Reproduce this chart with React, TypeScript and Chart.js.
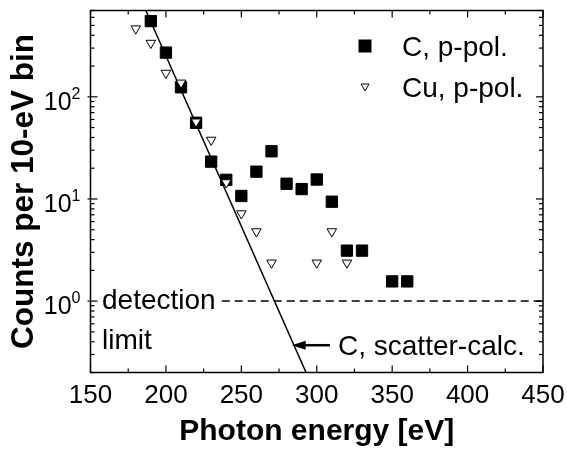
import React, { useEffect, useRef } from 'react';
import { Chart, registerables } from 'chart.js';

Chart.register(...registerables);

// ---- data ----
const energyC = [190, 200, 210, 220, 230, 240, 250, 260, 270, 280, 290, 300, 310, 320, 330, 350, 360];
const countsC = [551, 271, 124, 55.7, 23.2, 15.4, 10.7, 18.5, 29.3, 14.1, 12.5, 15.5, 9.4, 3.12, 3.12, 1.56, 1.56];
const energyCu = [180, 190, 200, 210, 220, 230, 240, 250, 260, 270, 300, 310, 320];
const countsCu = [465, 336, 171, 137, 57, 37.8, 14.5, 7.2, 4.8, 2.37, 2.37, 4.8, 2.37];
const calcEnergy = [186.7, 292.9];
const calcCounts = [700, 0.2];
const limitEnergy = [237, 450];
const limitCounts = [1, 1];
const arrowEnergy = [308.8, 283.4];
const arrowCount = 0.37;

const xMajorTicks = [150, 200, 250, 300, 350, 400, 450];
const xMinorTicks = [175, 225, 275, 325, 375, 425];
const yMajorTicks = [1, 10, 100];
const yMajorExponents = ['0', '1', '2'];
const yMinorTicks = [0.2, 0.3, 0.4, 0.5, 0.6, 0.7, 0.8, 0.9, 2, 3, 4, 5, 6, 7, 8, 9, 20, 30, 40, 50, 60, 70, 80, 90, 200, 300, 400, 500, 600, 700];

const seriesLabels = ['C, p-pol.', 'Cu, p-pol.'];
const xTitle = 'Photon energy [eV]';
const yTitle = 'Counts per 10-eV bin';
const limitText = ['detection', 'limit'];
const calcText = 'C, scatter-calc.';

const X_MIN = 150, X_MAX = 450, Y_MIN = 0.2, Y_MAX = 700;

const FAMILY = '"Liberation Sans", Arial, Helvetica, sans-serif';
const font = (size: number, bold = false) => `${bold ? 'bold ' : ''}${size}px ${FAMILY}`;

const decorPlugin = {
  id: 'decor',
  afterDatasetsDraw(chart: any) {
    const { ctx, chartArea: a, scales } = chart;
    const x = scales.x;
    const y = scales.y;
    ctx.save();
    ctx.strokeStyle = '#000';
    ctx.fillStyle = '#000';
    ctx.setLineDash([]);

    const seg = (x1: number, y1: number, x2: number, y2: number) => {
      ctx.beginPath();
      ctx.moveTo(x1, y1);
      ctx.lineTo(x2, y2);
      ctx.stroke();
    };

    // ticks (inward)
    ctx.lineWidth = 1.2;
    xMajorTicks.forEach((v) => {
      const px = x.getPixelForValue(v);
      seg(px, a.bottom, px, a.bottom - 7);
      seg(px, a.top, px, a.top + 7);
    });
    xMinorTicks.forEach((v) => {
      const px = x.getPixelForValue(v);
      seg(px, a.bottom, px, a.bottom - 4);
      seg(px, a.top, px, a.top + 4);
    });
    yMajorTicks.forEach((v) => {
      const py = y.getPixelForValue(v);
      seg(a.left - 3, py, a.left + 7, py);
      seg(a.right, py, a.right - 7, py);
    });
    yMinorTicks.forEach((v) => {
      const py = y.getPixelForValue(v);
      seg(a.left, py, a.left + 4, py);
      seg(a.right, py, a.right - 4, py);
    });

    // frame
    ctx.lineWidth = 1.5;
    ctx.strokeRect(a.left, a.top, a.right - a.left, a.bottom - a.top);

    // x tick labels
    ctx.font = font(26);
    ctx.textAlign = 'center';
    ctx.textBaseline = 'alphabetic';
    xMajorTicks.forEach((v) => {
      ctx.fillText(String(v), x.getPixelForValue(v), a.bottom + 30);
    });

    // y tick labels 10^n
    yMajorTicks.forEach((v, i) => {
      const py = y.getPixelForValue(v);
      const exp = yMajorExponents[i];
      ctx.textAlign = 'right';
      ctx.font = font(16);
      const ew = ctx.measureText(exp).width;
      const xr = a.left - 10;
      ctx.fillText(exp, xr, py + 2);
      ctx.font = font(25);
      ctx.fillText('10', xr - ew, py + 13);
    });

    // axis titles
    ctx.font = font(30, true);
    ctx.textAlign = 'center';
    ctx.fillText(xTitle, (a.left + a.right) / 2, 440);
    ctx.save();
    ctx.font = font(31.5, true);
    ctx.translate(33, (a.top + a.bottom) / 2);
    ctx.rotate(-Math.PI / 2);
    ctx.fillText(yTitle, 0, 0);
    ctx.restore();

    // legend
    ctx.font = font(28);
    ctx.textAlign = 'left';
    const lx = 365;
    const ly1 = 46;
    const ly2 = 87;
    ctx.fillRect(lx - 6.5, ly1 - 6.5, 13, 13);
    ctx.fillText(seriesLabels[0], 402, ly1 + 10);
    ctx.lineWidth = 1;
    ctx.fillStyle = '#fff';
    ctx.beginPath();
    ctx.moveTo(lx - 4, ly2 - 3);
    ctx.lineTo(lx + 4, ly2 - 3);
    ctx.lineTo(lx, ly2 + 4);
    ctx.closePath();
    ctx.fill();
    ctx.stroke();
    ctx.fillStyle = '#000';
    ctx.fillText(seriesLabels[1], 402, ly2 + 10);

    // detection limit text
    const p1 = y.getPixelForValue(1);
    ctx.fillText(limitText[0], 102, p1 + 7.5);
    ctx.fillText(limitText[1], 102, p1 + 47.5);

    // arrow + calc label
    const ay = y.getPixelForValue(arrowCount);
    const tailX = x.getPixelForValue(arrowEnergy[0]);
    const tipX = x.getPixelForValue(arrowEnergy[1]);
    ctx.lineWidth = 2.5;
    seg(tailX, ay, tipX + 10, ay);
    ctx.beginPath();
    ctx.moveTo(tipX, ay);
    ctx.lineTo(tipX + 14, ay - 4.5);
    ctx.lineTo(tipX + 14, ay + 4.5);
    ctx.closePath();
    ctx.fill();
    ctx.fillText(calcText, 338, ay + 10);

    ctx.restore();
  },
};

export default function App() {
  const canvasRef = useRef<HTMLCanvasElement | null>(null);

  useEffect(() => {
    document.body.style.margin = '0';
    const canvas = canvasRef.current;
    if (!canvas) return;
    const chart = new Chart(canvas, {
      type: 'scatter',
      data: {
        datasets: [
          {
            label: seriesLabels[1],
            data: energyCu.map((e, i) => ({ x: e, y: countsCu[i] })),
            pointStyle: 'triangle',
            rotation: 180,
            pointRadius: 5.5,
            pointBackgroundColor: '#fff',
            pointBorderColor: '#000',
            pointBorderWidth: 1,
            showLine: false,
          },
          {
            label: seriesLabels[0],
            data: energyC.map((e, i) => ({ x: e, y: countsC[i] })),
            pointStyle: 'rect',
            pointRadius: 8,
            pointBackgroundColor: '#000',
            pointBorderColor: '#000',
            pointBorderWidth: 1,
            showLine: false,
          },
          {
            label: calcText,
            data: calcEnergy.map((e, i) => ({ x: e, y: calcCounts[i] })),
            showLine: true,
            pointRadius: 0,
            borderColor: '#000',
            borderWidth: 1.5,
          },
          {
            label: limitText.join(' '),
            data: limitEnergy.map((e, i) => ({ x: e, y: limitCounts[i] })),
            showLine: true,
            pointRadius: 0,
            borderColor: '#000',
            borderWidth: 1.5,
            borderDash: [8, 5],
          },
        ],
      },
      options: {
        responsive: false,
        maintainAspectRatio: false,
        devicePixelRatio: 1,
        animation: false,
        layout: { padding: { left: 90.5, right: 24, top: 10.5, bottom: 76.5 } },
        scales: {
          x: { type: 'linear', min: X_MIN, max: X_MAX, display: false },
          y: { type: 'logarithmic', min: Y_MIN, max: Y_MAX, display: false },
        },
        plugins: {
          legend: { display: false },
          tooltip: { enabled: false },
        },
        events: [],
      },
      plugins: [decorPlugin],
    });
    return () => chart.destroy();
  }, []);

  return (
    <div style={{ width: 567, height: 449, background: '#fff' }}>
      <canvas ref={canvasRef} width={567} height={449} style={{ display: 'block' }} />
    </div>
  );
}
